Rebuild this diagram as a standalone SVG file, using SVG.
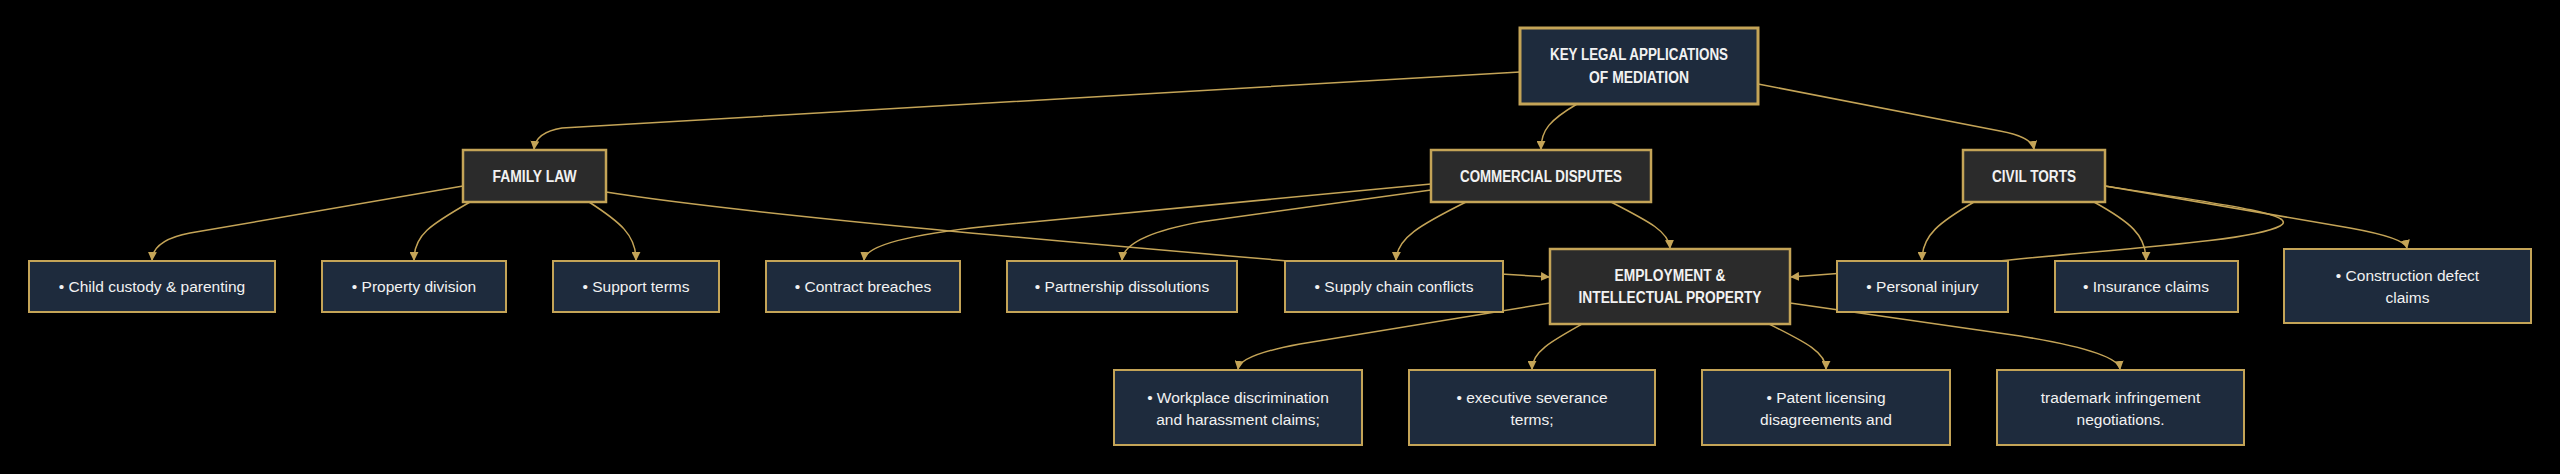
<svg xmlns="http://www.w3.org/2000/svg" width="2560" height="474" viewBox="0 0 2560 474">
<defs>
<style>
.bg{fill:#000}
.leaf{fill:#1e2b3d;stroke:#c4a457;stroke-width:2}
.cat{fill:#2b2b2b;stroke:#c4a457;stroke-width:2.5}
.root{fill:#1e2b3d;stroke:#c4a457;stroke-width:3}
.t{font-family:"Liberation Sans",Arial,sans-serif;font-size:15.5px;fill:#f2f2f2;text-anchor:middle;dominant-baseline:central}
.b{font-weight:bold;font-size:16px}
.e{fill:none;stroke:#c4a457;stroke-width:1.5}
</style>
<marker id="arr" viewBox="0 0 10 10" refX="9" refY="5" markerWidth="9" markerHeight="9" markerUnits="userSpaceOnUse" orient="auto">
<path d="M0,0 L10,5 L0,10 z" fill="#c4a457"/>
</marker>
</defs>
<rect class="bg" x="0" y="0" width="2560" height="474"/>
<g id="connectors">
<path class="e" marker-end="url(#arr)" d="M1520,72 C1200,92 620,122 562,128 Q536,132 534,149"/>
<path class="e" marker-end="url(#arr)" d="M1577,104 C1550,120 1541,130 1541,149"/>
<path class="e" marker-end="url(#arr)" d="M1758,84 L2000,131 Q2032,137 2034,149"/>
<path class="e" marker-end="url(#arr)" d="M463,186 L190,233 Q153,240 152,260"/>
<path class="e" marker-end="url(#arr)" d="M470,202 C430,225 414,235 414,260"/>
<path class="e" marker-end="url(#arr)" d="M589,202 C620,222 636,235 636,260"/>
<path class="e" marker-end="url(#arr)" d="M606,192 C750,215 1100,245 1300,262 L1549,277"/>
<path class="e" marker-end="url(#arr)" d="M1431,184 L1000,225 Q866,238 864,260"/>
<path class="e" marker-end="url(#arr)" d="M1431,190 L1200,222 Q1124,236 1122,260"/>
<path class="e" marker-end="url(#arr)" d="M1466,202 C1420,225 1397,238 1396,260"/>
<path class="e" marker-end="url(#arr)" d="M1611,202 C1650,222 1669,232 1670,248"/>
<path class="e" marker-end="url(#arr)" d="M1974,202 C1940,222 1922,235 1922,260"/>
<path class="e" marker-end="url(#arr)" d="M2094,202 C2130,222 2146,235 2146,260"/>
<path class="e" marker-end="url(#arr)" d="M2105,186 C2230,205 2300,215 2280,226 C2250,242 2100,250 1990,262 L1791,277"/>
<path class="e" marker-end="url(#arr)" d="M2105,186 L2350,228 Q2405,238 2407,248"/>
<path class="e" marker-end="url(#arr)" d="M1550,303 L1300,344 Q1240,355 1238,369"/>
<path class="e" marker-end="url(#arr)" d="M1584,323 C1550,342 1532,352 1532,369"/>
<path class="e" marker-end="url(#arr)" d="M1767,323 C1805,342 1826,352 1826,369"/>
<path class="e" marker-end="url(#arr)" d="M1790,303 L2020,336 Q2118,352 2120,369"/>
</g>
<g id="root">
<rect class="root" x="1520" y="28" width="238" height="76"/>
<text class="t b" x="1639" y="54" textLength="178" lengthAdjust="spacingAndGlyphs">KEY LEGAL APPLICATIONS</text>
<text class="t b" x="1639" y="77" textLength="100" lengthAdjust="spacingAndGlyphs">OF MEDIATION</text>
</g>
<g id="family">
<rect class="cat" x="463" y="150" width="143" height="52"/>
<text class="t b" x="534.5" y="176" textLength="84" lengthAdjust="spacingAndGlyphs">FAMILY LAW</text>
</g>
<g id="commercial">
<rect class="cat" x="1431" y="150" width="220" height="52"/>
<text class="t b" x="1541" y="176" textLength="162" lengthAdjust="spacingAndGlyphs">COMMERCIAL DISPUTES</text>
</g>
<g id="civil">
<rect class="cat" x="1963" y="150" width="142" height="52"/>
<text class="t b" x="2034" y="176" textLength="84" lengthAdjust="spacingAndGlyphs">CIVIL TORTS</text>
</g>
<g id="employment">
<rect class="cat" x="1550" y="249" width="240" height="75"/>
<text class="t b" x="1670" y="275" textLength="111" lengthAdjust="spacingAndGlyphs">EMPLOYMENT &amp;</text>
<text class="t b" x="1670" y="297" textLength="183" lengthAdjust="spacingAndGlyphs">INTELLECTUAL PROPERTY</text>
</g>
<g id="child">
<rect class="leaf" x="29" y="261" width="246" height="51"/>
<text class="t" x="152" y="286.5">• Child custody &amp; parenting</text>
</g>
<g id="property">
<rect class="leaf" x="322" y="261" width="184" height="51"/>
<text class="t" x="414" y="286.5">• Property division</text>
</g>
<g id="support">
<rect class="leaf" x="553" y="261" width="166" height="51"/>
<text class="t" x="636" y="286.5">• Support terms</text>
</g>
<g id="contract">
<rect class="leaf" x="766" y="261" width="194" height="51"/>
<text class="t" x="863" y="286.5">• Contract breaches</text>
</g>
<g id="partnership">
<rect class="leaf" x="1007" y="261" width="230" height="51"/>
<text class="t" x="1122" y="286.5">• Partnership dissolutions</text>
</g>
<g id="supply">
<rect class="leaf" x="1285" y="261" width="218" height="51"/>
<text class="t" x="1394" y="286.5">• Supply chain conflicts</text>
</g>
<g id="personal">
<rect class="leaf" x="1837" y="261" width="171" height="51"/>
<text class="t" x="1922.5" y="286.5">• Personal injury</text>
</g>
<g id="insurance">
<rect class="leaf" x="2055" y="261" width="183" height="51"/>
<text class="t" x="2146" y="286.5">• Insurance claims</text>
</g>
<g id="construction">
<rect class="leaf" x="2284" y="249" width="247" height="74"/>
<text class="t" x="2407.5" y="275">• Construction defect</text>
<text class="t" x="2407.5" y="297">claims</text>
</g>
<g id="workplace">
<rect class="leaf" x="1114" y="370" width="248" height="75"/>
<text class="t" x="1238" y="397">• Workplace discrimination</text>
<text class="t" x="1238" y="419">and harassment claims;</text>
</g>
<g id="executive">
<rect class="leaf" x="1409" y="370" width="246" height="75"/>
<text class="t" x="1532" y="397">• executive severance</text>
<text class="t" x="1532" y="419">terms;</text>
</g>
<g id="patent">
<rect class="leaf" x="1702" y="370" width="248" height="75"/>
<text class="t" x="1826" y="397">• Patent licensing</text>
<text class="t" x="1826" y="419">disagreements and</text>
</g>
<g id="trademark">
<rect class="leaf" x="1997" y="370" width="247" height="75"/>
<text class="t" x="2120.5" y="397">trademark infringement</text>
<text class="t" x="2120.5" y="419">negotiations.</text>
</g>
</svg>
